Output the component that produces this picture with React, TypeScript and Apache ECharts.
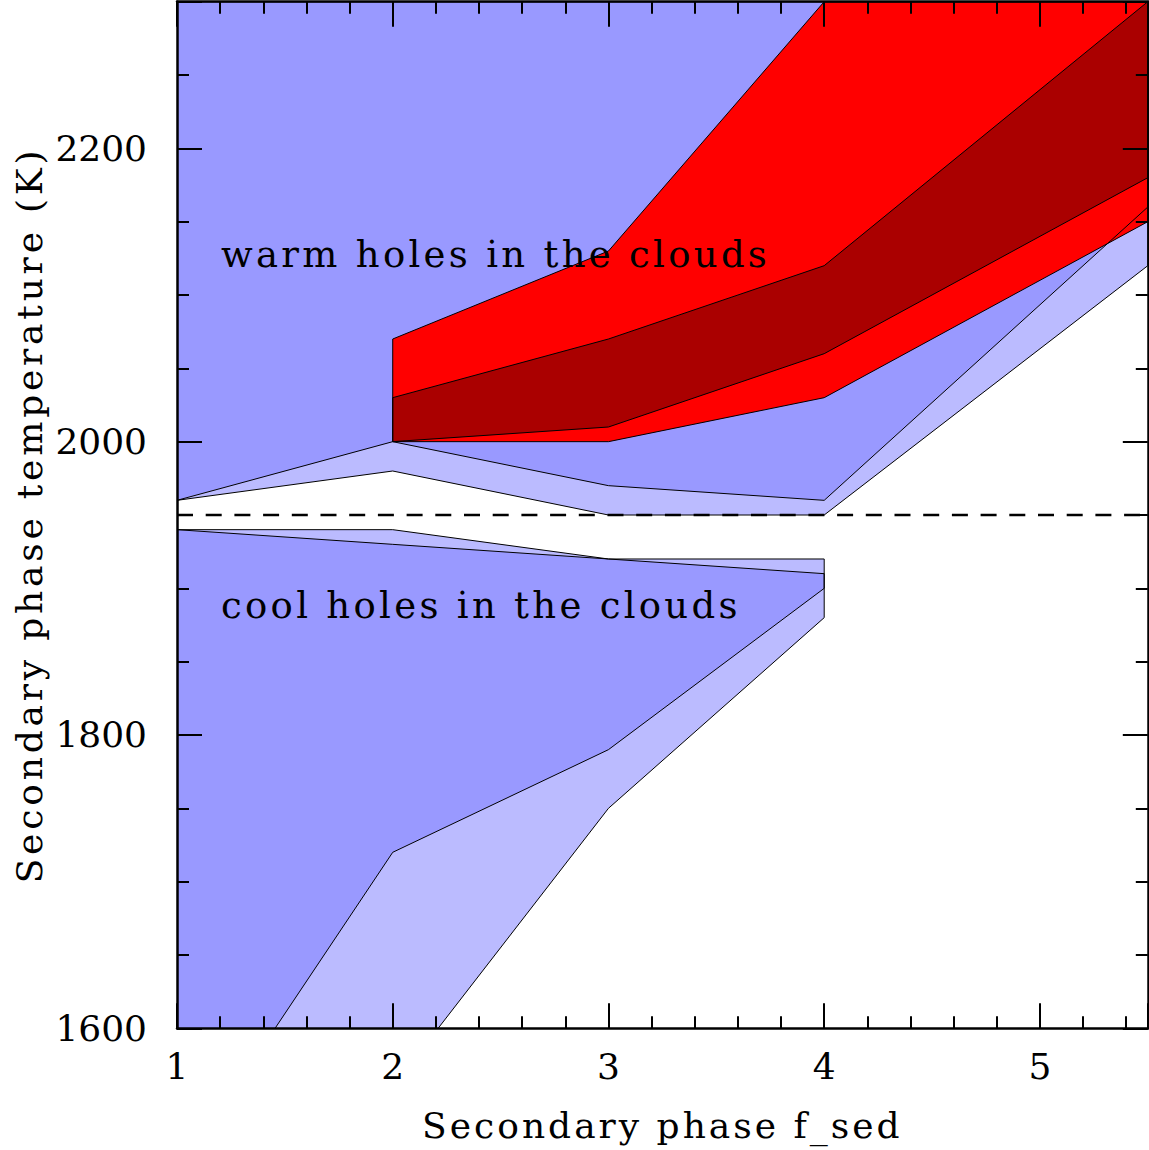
import React, { useEffect, useRef } from 'react';
import * as echarts from 'echarts';

const FONT = '"DejaVu Serif", serif';

// ---- data ----
// warm side (above the dividing temperature)
const fsedWarm = [1, 2, 3, 4, 5.5];
const warmOuterLow = [1960, 1980, 1950, 1950, 2120]; // light-blue lower edge
const warmInnerLow = [1960, 2000, 1970, 1960, 2160]; // dark-blue lower edge
const fsedRed = [2, 3, 4, 5.5];
const redLow = [2000, 2000, 2030, 2150];
const redHigh = [2070, 2130, 2300, 2300];
const darkRedLow = [2000, 2010, 2060, 2180];
const darkRedHigh = [2030, 2070, 2120, 2300];
// cool side (below the dividing temperature)
const fsedCool = [1, 2, 3, 4];
const coolOuterHigh = [1940, 1940, 1920, 1920];
const coolOuterLow = [1400, 1560, 1750, 1880];
const coolInnerHigh = [1940, 1930, 1920, 1910];
const coolInnerLow = [1500, 1720, 1790, 1900];
const dividingTemp = 1950;
const tempTop = 2300;

// axes
const xMin = 1;
const xMax = 5.5;
const xInterval = 1;
const yMin = 1600;
const yMax = 2300;
const yInterval = 200;

const xTitle = 'Secondary phase f_sed';
const yTitle = 'Secondary phase temperature (K)';
const warmLabel = 'warm holes in the clouds';
const coolLabel = 'cool holes in the clouds';

const COLORS = {
  lightBlue: '#bbbbff',
  blue: '#9999ff',
  red: '#ff0000',
  darkRed: '#aa0000',
};

function band(xs: number[], low: number[], high: number[]): number[][] {
  const pts: number[][] = [];
  xs.forEach((x, i) => pts.push([x, low[i]]));
  for (let i = xs.length - 1; i >= 0; i--) pts.push([xs[i], high[i]]);
  return pts;
}

const warmOuter = band(fsedWarm, warmOuterLow, fsedWarm.map(() => tempTop));
const warmInner = band(fsedWarm, warmInnerLow, fsedWarm.map(() => tempTop));
const redBand = band(fsedRed, redLow, redHigh);
const darkRedBand = band(fsedRed, darkRedLow, darkRedHigh);
const coolOuter = band(fsedCool, coolOuterLow, coolOuterHigh);
const coolInner = band(fsedCool, coolInnerLow, coolInnerHigh);

function polySeries(pts: number[][], fill: string | null) {
  return {
    type: 'custom',
    coordinateSystem: 'cartesian2d',
    clip: true,
    silent: true,
    data: pts,
    encode: { x: 0, y: 1 },
    renderItem: (params: any, api: any) => {
      if (params.dataIndex !== 0) return null;
      return {
        type: 'polygon',
        shape: { points: pts.map((p) => api.coord(p)) },
        style: fill
          ? { fill, stroke: 'none' }
          : { fill: 'none', stroke: '#000', lineWidth: 1 },
      };
    },
  };
}

const fills: [number[][], string][] = [
  [warmOuter, COLORS.lightBlue],
  [warmInner, COLORS.blue],
  [redBand, COLORS.red],
  [darkRedBand, COLORS.darkRed],
  [coolOuter, COLORS.lightBlue],
  [coolInner, COLORS.blue],
];

function axisCommon(isX: boolean, showLabels: boolean) {
  return {
    type: 'value',
    min: isX ? xMin : yMin,
    max: isX ? xMax : yMax,
    interval: isX ? xInterval : yInterval,
    z: 10,
    axisLine: { show: true, onZero: false, lineStyle: { color: '#000', width: 2.5 } },
    axisTick: { show: true, inside: true, length: 25, lineStyle: { color: '#000', width: 2 } },
    minorTick: {
      show: true,
      splitNumber: isX ? 5 : 4,
      length: 12,
      lineStyle: { color: '#000', width: 2 },
    },
    splitLine: { show: false },
    minorSplitLine: { show: false },
    axisLabel: {
      show: showLabels,
      showMaxLabel: false,
      color: '#000',
      fontFamily: FONT,
      fontSize: 36,
      margin: isX ? 20 : 30,
      formatter: (v: number) => String(v),
    },
  };
}

const spacingFor: Record<string, string> = {
  [xTitle]: '3px',
  [yTitle]: '3.8px',
  [warmLabel]: '3.3px',
  [coolLabel]: '3.3px',
};

export default function App() {
  const ref = useRef<HTMLDivElement>(null);
  useEffect(() => {
    if (!ref.current) return;
    const chart = echarts.init(ref.current, undefined, { renderer: 'svg' });
    const series: any[] = [];
    fills.forEach(([pts, c]) => series.push(polySeries(pts, c)));
    series.push({
      type: 'line',
      data: [
        [xMin, dividingTemp],
        [xMax, dividingTemp],
      ],
      symbol: 'none',
      silent: true,
      lineStyle: { color: '#000', width: 2.5, type: [16, 12.7] },
    });
    fills.forEach(([pts]) => series.push(polySeries(pts, null)));

    chart.setOption({
      animation: false,
      backgroundColor: '#fff',
      grid: {
        left: 177,
        right: 1.2,
        top: 1.7,
        bottom: 121.7,
        containLabel: false,
        outerBoundsMode: 'none',
      },
      xAxis: [
        {
          ...axisCommon(true, true),
          position: 'bottom',
          name: xTitle,
          nameLocation: 'middle',
          nameGap: 79,
          nameMoveOverlap: false,
          nameTextStyle: { color: '#000', fontFamily: FONT, fontSize: 36 },
        },
        { ...axisCommon(true, false), position: 'top' },
      ],
      yAxis: [
        {
          ...axisCommon(false, true),
          position: 'left',
          name: yTitle,
          nameLocation: 'middle',
          nameGap: 130,
          nameRotate: 90,
          nameMoveOverlap: false,
          nameTextStyle: { color: '#000', fontFamily: FONT, fontSize: 36 },
        },
        { ...axisCommon(false, false), position: 'right' },
      ],
      graphic: [
        {
          type: 'text',
          x: 221,
          y: 254,
          z: 100,
          silent: true,
          style: {
            text: warmLabel,
            fill: '#000',
            font: `37px ${FONT}`,
            textAlign: 'left',
            textVerticalAlign: 'middle',
          },
        },
        {
          type: 'text',
          x: 221,
          y: 605,
          z: 100,
          silent: true,
          style: {
            text: coolLabel,
            fill: '#000',
            font: `37px ${FONT}`,
            textAlign: 'left',
            textVerticalAlign: 'middle',
          },
        },
      ],
      series,
    });

    // widen the letter spacing of worded texts (the reference font is widely spaced)
    ref.current.querySelectorAll('text').forEach((t) => {
      const s = spacingFor[(t.textContent || '').trim()];
      if (s) (t as SVGTextElement).style.letterSpacing = s;
    });

    return () => chart.dispose();
  }, []);
  return (
    <div
      ref={ref}
      style={{ position: 'absolute', left: 0, top: 0, width: 1149, height: 1150 }}
    />
  );
}
